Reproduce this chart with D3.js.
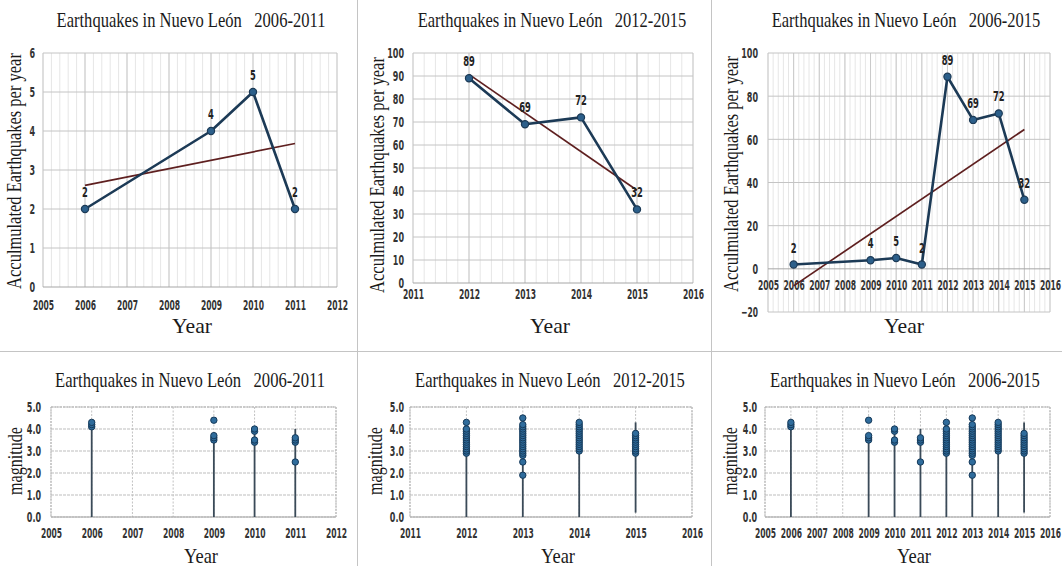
<!DOCTYPE html>
<html>
<head>
<meta charset="utf-8">
<script src="https://cdn.jsdelivr.net/npm/d3@7"></script>
<style>
  html, body { margin: 0; padding: 0; background: #fff; }
  svg { display: block; }
  .tl { font-family: "DejaVu Sans Condensed", "DejaVu Sans", sans-serif; font-weight: bold; font-size: 14px; fill: #333; }
  .serif { font-family: "Liberation Serif", "Times New Roman", serif; fill: #1a1a1a; }
</style>
</head>
<body>
<svg id="fig" width="1062" height="566"></svg>
<script>
// Yearly earthquake counts in Nuevo León
const years  = [2006, 2009, 2010, 2011, 2012, 2013, 2014, 2015];
const counts = [2, 4, 5, 2, 89, 69, 72, 32];

// Recorded magnitudes per year (distinct readings, same order as years)
const magnitudes = [
  [4.1, 4.2, 4.3],
  [3.5, 3.6, 3.7, 4.4],
  [3.4, 3.5, 3.9, 4.0],
  [2.5, 3.4, 3.5, 3.6],
  [2.9, 3.0, 3.1, 3.2, 3.3, 3.4, 3.5, 3.6, 3.7, 3.8, 3.9, 4.0, 4.3],
  [1.9, 2.5, 2.8, 2.9, 3.0, 3.1, 3.2, 3.3, 3.4, 3.5, 3.6, 3.7, 3.8, 3.9, 4.0, 4.1, 4.2, 4.5],
  [3.0, 3.1, 3.2, 3.3, 3.4, 3.5, 3.6, 3.7, 3.8, 3.9, 4.0, 4.1, 4.2, 4.3],
  [2.9, 3.0, 3.1, 3.2, 3.3, 3.4, 3.5, 3.6, 3.7, 3.8]
];
// Vertical range line drawn for each year
const stemLow  = [0, 0, 0, 0, 0, 0, 0, 0.2];
const stemHigh = [4.1, 3.5, 3.9, 4.0, 4.3, 4.5, 4.3, 4.3];

// Tick labels
const yearTicksEarly = [2005, 2006, 2007, 2008, 2009, 2010, 2011, 2012];
const yearTicksLate  = [2011, 2012, 2013, 2014, 2015, 2016];
const yearTicksAll   = [2005, 2006, 2007, 2008, 2009, 2010, 2011, 2012, 2013, 2014, 2015, 2016];
const countTicksEarly = [0, 1, 2, 3, 4, 5, 6];
const countTicksLate  = [0, 10, 20, 30, 40, 50, 60, 70, 80, 90, 100];
const countTicksAll   = [-20, 0, 20, 40, 60, 80, 100];
const magTicks = [0, 1, 2, 3, 4, 5];

const titleText = "Earthquakes in Nuevo León\u00a0\u00a0\u00a0";
const svg = d3.select("#fig");

// panel separators
svg.append("line").attr("x1", 0).attr("x2", 1062).attr("y1", 351.5).attr("y2", 351.5)
  .attr("stroke", "#c4c4c4").attr("stroke-width", 1);
[357.5, 711.5].forEach(px => svg.append("line").attr("x1", px).attr("x2", px)
  .attr("y1", 0).attr("y2", 566).attr("stroke", "#c4c4c4").attr("stroke-width", 1));

// advance width wanted for a narrow bold label
function labelWidth(s, perChar) {
  let w = 0;
  for (const ch of s) w += (ch === "." ? 0.45 : ch === "-" ? 0.6 : 1) * perChar;
  return w;
}

// squeeze axis tick labels horizontally (scaled about the tick anchor)
function narrowTicks(sel, perChar) {
  sel.attr("class", "tl").each(function () {
    const nat = this.getComputedTextLength();
    const sx = labelWidth(this.textContent, perChar) / nat;
    d3.select(this).attr("transform", `scale(${sx},1)`);
  });
}

// free-standing narrow label at (x, y)
function narrowLabel(g, str, x, y, perChar) {
  const t = g.append("text").attr("class", "tl").attr("text-anchor", "middle").text(str);
  const sx = labelWidth(str, perChar) / t.node().getComputedTextLength();
  t.attr("transform", `translate(${x},${y}) scale(${sx},1)`);
  return t;
}

function serifText(g, str, x, y, size, len, rotate) {
  const t = g.append("text").attr("class", "serif")
    .attr("text-anchor", "middle")
    .style("font-size", size + "px")
    .text(str);
  const sx = len / t.node().getComputedTextLength();
  t.attr("transform", `translate(${x},${y})${rotate ? " rotate(-90)" : ""} scale(${sx},1)`);
  return t;
}

function linreg(xs, ys) {
  const mx = d3.mean(xs), my = d3.mean(ys);
  let sxy = 0, sxx = 0;
  xs.forEach((v, i) => { sxy += (v - mx) * (ys[i] - my); sxx += (v - mx) * (v - mx); });
  const b = sxy / sxx;
  return v => my + b * (v - mx);
}

function countPanel(c) {
  const g = svg.append("g");
  const x = d3.scaleLinear().domain([c.xTicks[0], c.xTicks[c.xTicks.length - 1]]).range(c.xr);
  const y = d3.scaleLinear().domain([c.yTicks[0], c.yTicks[c.yTicks.length - 1]]).range(c.yr);
  const [x0, x1] = x.domain();

  // minor vertical grid
  const minor = d3.range(x0, x1 + 1e-9, 0.2);
  g.selectAll(".mn").data(minor).join("line")
    .attr("x1", d => x(d)).attr("x2", d => x(d)).attr("y1", c.yr[1]).attr("y2", c.yr[0])
    .attr("stroke", "#e6e6e6").attr("stroke-width", 1);
  // major vertical grid
  g.selectAll(".mj").data(c.xTicks).join("line")
    .attr("x1", d => x(d)).attr("x2", d => x(d)).attr("y1", c.yr[1]).attr("y2", c.yr[0])
    .attr("stroke", "#c9c9c9").attr("stroke-width", 1);
  // horizontal grid
  g.selectAll(".hz").data(c.yTicks).join("line")
    .attr("x1", c.xr[0]).attr("x2", c.xr[1]).attr("y1", d => y(d)).attr("y2", d => y(d))
    .attr("stroke", d => d === 0 ? "#a6a6a6" : "#c4c4c4").attr("stroke-width", 1);

  // axes
  const ax = g.append("g").attr("transform", `translate(0,${y(0) + c.xLabOff})`)
    .call(d3.axisBottom(x).tickValues(c.xTicks).tickSize(0).tickPadding(0).tickFormat(d3.format("d")));
  ax.select(".domain").remove();
  ax.selectAll("text").attr("dy", 0).call(narrowTicks, 5.3);
  const ay = g.append("g").attr("transform", `translate(${c.yLabX},0)`)
    .call(d3.axisLeft(y).tickValues(c.yTicks).tickSize(0).tickPadding(0).tickFormat(d3.format("d")));
  ay.select(".domain").remove();
  ay.selectAll("text").attr("dy", "0.35em").call(narrowTicks, 5.6);

  const pts = c.idx.map(i => ({ yr: years[i], n: counts[i] }));
  // trend line
  const f = linreg(pts.map(p => p.yr), pts.map(p => p.n));
  const ends = [pts[0].yr, pts[pts.length - 1].yr];
  g.append("line")
    .attr("x1", x(ends[0])).attr("y1", y(f(ends[0])))
    .attr("x2", x(ends[1])).attr("y2", y(f(ends[1])))
    .attr("stroke", "#5e1f1f").attr("stroke-width", 1.7);
  // series line
  g.append("path").datum(pts)
    .attr("d", d3.line().x(p => x(p.yr)).y(p => y(p.n)))
    .attr("fill", "none").attr("stroke", "#1c3a56").attr("stroke-width", 2.6)
    .attr("stroke-linejoin", "round");
  g.selectAll(".pt").data(pts).join("circle")
    .attr("cx", p => x(p.yr)).attr("cy", p => y(p.n)).attr("r", 3.6)
    .attr("fill", "#2c5f8a").attr("stroke", "#1c3a56").attr("stroke-width", 1.2);
  pts.forEach(p => narrowLabel(g, String(p.n), x(p.yr), y(p.n) - 12, 5.8).style("fill", "#222"));

  serifText(g, titleText + c.range, c.titleX, 27, 22, 269);
  serifText(g, "Acculmulated Earthquakes per year", c.ylX, c.ylY, 21, 236, true);
  serifText(g, "Year", c.yearX, 333, 21, 40);
}

function magPanel(c) {
  const g = svg.append("g");
  const x = d3.scaleLinear().domain([c.xTicks[0], c.xTicks[c.xTicks.length - 1]]).range(c.xr);
  const y = d3.scaleLinear().domain([0, 5]).range([517, 407]);

  g.selectAll(".vg").data(c.xTicks).join("line")
    .attr("x1", d => x(d)).attr("x2", d => x(d)).attr("y1", y(5)).attr("y2", y(0))
    .attr("stroke", "#c2c2c2").attr("stroke-width", 1).attr("stroke-dasharray", "2,1.5");
  g.selectAll(".hg").data(magTicks).join("line")
    .attr("x1", c.xr[0]).attr("x2", c.xr[1]).attr("y1", d => y(d)).attr("y2", d => y(d))
    .attr("stroke", d => d === 0 ? "#9e9e9e" : "#bdbdbd").attr("stroke-width", 1)
    .attr("stroke-dasharray", d => d === 0 ? null : "3,1");
  g.append("rect").attr("x", c.xr[0]).attr("y", y(5))
    .attr("width", c.xr[1] - c.xr[0]).attr("height", y(0) - y(5))
    .attr("fill", "none").attr("stroke", "#b5b5b5").attr("stroke-width", 1).attr("stroke-dasharray", "2,1");

  const ax = g.append("g").attr("transform", "translate(0,538)")
    .call(d3.axisBottom(x).tickValues(c.xTicks).tickSize(0).tickPadding(0).tickFormat(d3.format("d")));
  ax.select(".domain").remove();
  ax.selectAll("text").attr("dy", 0).call(narrowTicks, 5.3);
  const ay = g.append("g").attr("transform", `translate(${c.yLabX},0)`)
    .call(d3.axisLeft(y).tickValues(magTicks).tickSize(0).tickPadding(0).tickFormat(d3.format(".1f")));
  ay.select(".domain").remove();
  ay.selectAll("text").attr("dy", "0.35em").call(narrowTicks, 5.8);

  c.idx.forEach(i => {
    const cx = x(years[i]);
    g.append("line").attr("x1", cx).attr("x2", cx)
      .attr("y1", y(stemLow[i])).attr("y2", y(stemHigh[i]))
      .attr("stroke", "#3a4a58").attr("stroke-width", 1.8);
    g.selectAll(null).data(magnitudes[i]).join("circle")
      .attr("cx", cx).attr("cy", m => y(m)).attr("r", 3.2)
      .attr("fill", "#2f6c9c").attr("stroke", "#163a5a").attr("stroke-width", 1);
  });

  serifText(g, titleText + c.range, c.titleX, 387, 22, 270);
  serifText(g, "magnitude", c.ylX, 461, 20, 68, true);
  serifText(g, "Year", c.yearX, 563, 21, 34);
}

countPanel({ xTicks: yearTicksEarly, yTicks: countTicksEarly, xr: [43, 337], yr: [287, 53],
  idx: [0, 1, 2, 3], range: "2006-2011", xLabOff: 23, yLabX: 35,
  titleX: 191, ylX: 21, ylY: 171, yearX: 192 });
countPanel({ xTicks: yearTicksLate, yTicks: countTicksLate, xr: [413, 693], yr: [283, 53],
  idx: [4, 5, 6, 7], range: "2012-2015", xLabOff: 16, yLabX: 404,
  titleX: 552, ylX: 384, ylY: 175, yearX: 550 });
countPanel({ xTicks: yearTicksAll, yTicks: countTicksAll, xr: [768, 1050], yr: [312, 53],
  idx: [0, 1, 2, 3, 4, 5, 6, 7], range: "2006-2015", xLabOff: 21, yLabX: 758,
  titleX: 906, ylX: 738, ylY: 174, yearX: 904 });

magPanel({ xTicks: yearTicksEarly, xr: [51, 336], idx: [0, 1, 2, 3], range: "2006-2011",
  yLabX: 41, titleX: 190, ylX: 22, yearX: 201 });
magPanel({ xTicks: yearTicksLate, xr: [410, 692], idx: [4, 5, 6, 7], range: "2012-2015",
  yLabX: 404, titleX: 550, ylX: 382, yearX: 558 });
magPanel({ xTicks: yearTicksAll, xr: [765, 1050], idx: [0, 1, 2, 3, 4, 5, 6, 7], range: "2006-2015",
  yLabX: 757, titleX: 905, ylX: 737, yearX: 914 });
</script>
</body>
</html>
